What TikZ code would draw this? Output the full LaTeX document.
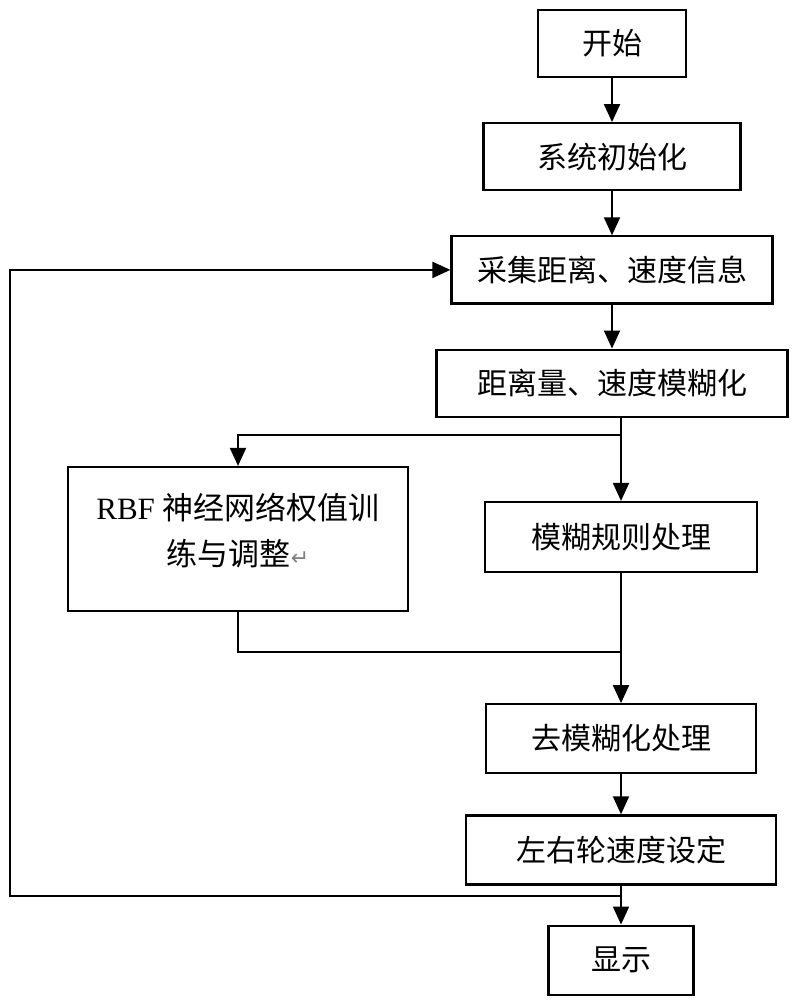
\documentclass[tikz,border=0pt]{standalone}
\usepackage{fontspec}
\setmainfont{Liberation Serif}
\newfontfamily\cjk{Noto Sans CJK SC}
\newfontfamily\symfont{DejaVu Sans}
\usetikzlibrary{calc, positioning, arrows.meta}

\begin{document}
\begin{tikzpicture}[x=1pt, y=-1pt,
		box/.style={draw, line width=2.2pt, inner sep=0pt, minimum height=67pt, text centered, font=\fontsize{30}{38}\selectfont\cjk},
		flow/.style={-{Triangle[length=18pt, width=16pt]}, line width=2pt}]

		\useasboundingbox (0,0) rectangle (800,1000);

		% nodes - main column %
		\node[box, minimum width=148pt] (start) at (612,43.5) {开始};
		\node[box, minimum width=257pt, below=44pt of start] (init) {系统初始化};
		\node[box, minimum width=321pt, below=44pt of init] (collect) {采集距离、速度信息};
		\node[box, minimum width=351pt, below=44pt of collect] (fuzz) {距离量、速度模糊化};
		\node[box, minimum width=272pt, minimum height=70pt] (rule) at (621,537) {模糊规则处理};
		\node[box, minimum width=270pt, minimum height=69pt, below=130pt of rule] (defuzz) {去模糊化处理};
		\node[box, minimum width=310pt, minimum height=69pt, below=40pt of defuzz] (wheel) {左右轮速度设定};
		\node[box, minimum width=145pt, minimum height=69pt, below=39pt of wheel] (show) {显示};

		% nodes - side branch %
		\node[box, minimum width=340pt, minimum height=144pt] (rbf) at (238,539) {};
		\node[align=center, inner sep=0pt, font=\fontsize{31}{46}\selectfont] (rbftext) at ($(rbf)+(0,-9)$)
			{RBF {\cjk 神经网络权值训}\\{\cjk 练与调整}{\symfont\color{gray}\fontsize{22}{24}\selectfont ↵}};

		% junctions %
		\coordinate (j1) at ($(fuzz.south -| rule.north)+(0,17)$);
		\coordinate (j2) at ($(rule.south)+(0,79)$);
		\coordinate (j3) at ($(wheel.south)+(0,10)$);
		\coordinate (fbx) at (10,0);

		% edges %
		\draw[flow] (start) -- (init);
		\draw[flow] (init) -- (collect);
		\draw[flow] (collect) -- (fuzz);
		\draw[flow] (fuzz.south -| rule.north) -- (rule);
		\draw[flow] (j1) -| (rbf.north);
		\draw[flow] (rule) -- (defuzz);
		\draw[line width=2pt] (rbf.south) |- (j2);
		\draw[flow] (defuzz) -- (wheel);
		\draw[flow] (wheel) -- (show);
		\draw[flow] (j3) -- (j3 -| fbx) |- (collect.west);
\end{tikzpicture}
\end{document}
